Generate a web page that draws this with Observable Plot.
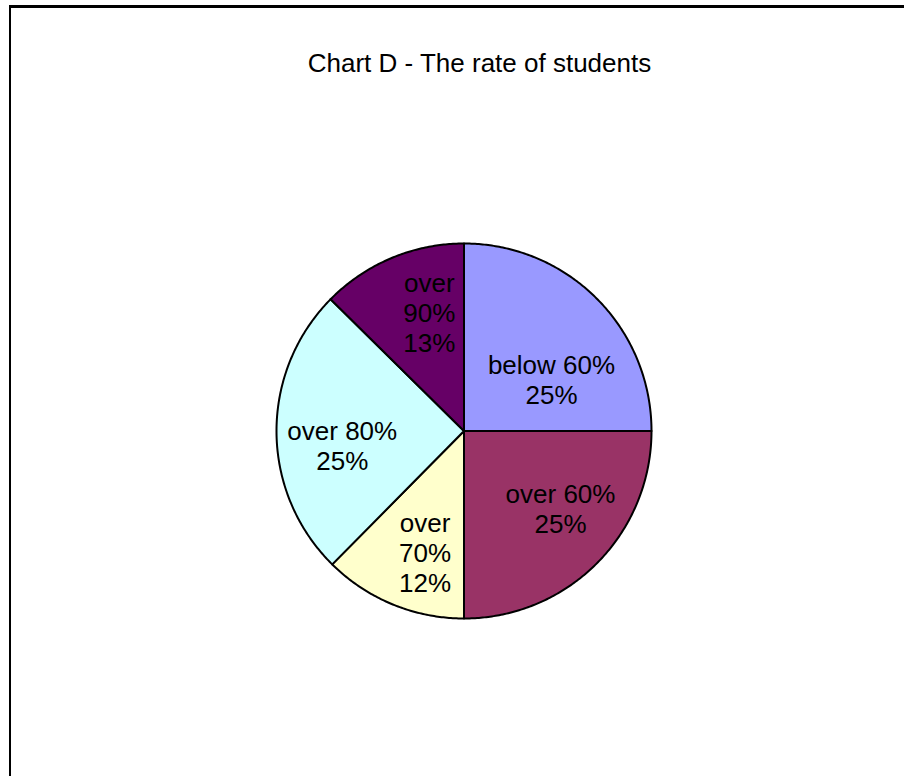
<!DOCTYPE html>
<html>
<head>
<meta charset="utf-8">
<script src="https://cdn.jsdelivr.net/npm/d3@7"></script>
<script src="https://cdn.jsdelivr.net/npm/@observablehq/plot@0.6"></script>
<style>
  html, body { margin: 0; padding: 0; background: #fff; }
  #wrap { position: relative; width: 904px; height: 776px; overflow: hidden; background: #fff; }
  #chart { position: absolute; left: 0; top: 0; }
  #frame { position: absolute; left: 9px; top: 5px; right: -5px; bottom: -5px;
           border-top: 3px solid #000; border-left: 2px solid #000; pointer-events: none; }
</style>
</head>
<body>
<div id="wrap"><div id="chart"></div><div id="frame"></div></div>
<script>
// ---- data ----
const title = "Chart D - The rate of students";
const categories = ["below 60%", "over 60%", "over 70%", "over 80%", "over 90%"];
const shares = [25, 25, 12.4, 25, 12.6];
const labelNames = ["below 60%", "over 60%", "over\n70%", "over 80%", "over\n90%"];

// ---- styles / layout ----
const sliceColors = ["#9999FF", "#993366", "#FFFFCC", "#CCFFFF", "#660066"];
const cx = 463.5, cy = 430.5, R = 187.5;
const labelRadius = 0.66;
const labelNudge = [[0, 36], [9, -10], [8, 7], [2, 14], [13, -4]]; // px offsets

const total = d3.sum(shares);
const arcs = d3.pie().sort(null).value(d => d)(shares);

const slicePts = [];
arcs.forEach((a, i) => {
  const cat = categories[i];
  slicePts.push({cat, x: 0, y: 0});
  const n = Math.max(8, Math.ceil((a.endAngle - a.startAngle) / 0.01));
  for (let k = 0; k <= n; k++) {
    const t = a.startAngle + (a.endAngle - a.startAngle) * k / n;
    slicePts.push({cat, x: Math.sin(t), y: Math.cos(t)});
  }
});

const labels = arcs.map((a, i) => {
  const m = (a.startAngle + a.endAngle) / 2;
  const pct = Math.round(shares[i] / total * 100) + "%";
  return {cat: categories[i], text: labelNames[i] + "\n" + pct, x: labelRadius * Math.sin(m), y: labelRadius * Math.cos(m), dx: labelNudge[i][0], dy: labelNudge[i][1]};
});

const chart = Plot.plot({
  width: 904,
  height: 776,
  margin: 0,
  style: {background: "transparent", fontFamily: "'Liberation Sans', Arial, sans-serif"},
  x: {domain: [-1, 1], range: [cx - R, cx + R], axis: null},
  y: {domain: [-1, 1], range: [cy + R, cy - R], axis: null},
  color: {domain: categories, range: sliceColors},
  marks: [
    Plot.line(slicePts, {x: "x", y: "y", z: "cat", fill: "cat", stroke: "#000", strokeWidth: 2, curve: "linear-closed", strokeLinejoin: "round"}),
    ...labels.map(l => Plot.text([l], {x: "x", y: "y", text: "text", dx: l.dx, dy: l.dy, fontSize: 26, lineHeight: 1.15, fill: "#000", textAnchor: "middle"})),
    Plot.text([title], {frameAnchor: "top", lineAnchor: "middle", dx: 479 - 452, dy: 63, fontSize: 26, fill: "#000", text: d => d})
  ]
});
document.getElementById("chart").appendChild(chart);
</script>
</body>
</html>
